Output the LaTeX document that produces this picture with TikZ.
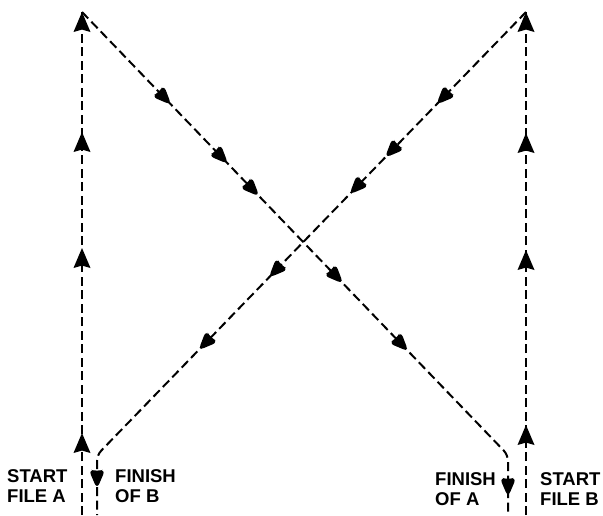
\documentclass[tikz,border=0pt]{standalone}
\usepackage{fontspec}
\setsansfont{Liberation Sans}
\usetikzlibrary{decorations.markings}

\begin{document}
\begin{tikzpicture}[x=1pt,y=-1pt]

\def\dashon{9pt}
\def\dashoff{4.5pt}
\def\headlen{20pt}
\def\headwid{8.5pt}

\tikzset{line/.style={draw,line width=2pt}}
\tikzset{flow/.style={line,dash pattern=on \dashon off \dashoff}}
\tikzset{arrowat/.style={postaction={decorate,decoration={markings,mark=at position #1 with {\fill[solid] (-\headlen,-\headwid) -- (0pt,0pt) -- (-\headlen,\headwid) -- (-0.88*\headlen,0pt) -- cycle;}}}}}
\tikzset{textnode/.style={inner sep=0pt,anchor=north west,align=left,font=\sffamily\bfseries\fontsize{18.5}{20}\selectfont}}

\useasboundingbox (0,0) rectangle (603,515);

\coordinate (startA) at (82,515);
\coordinate (topA) at (82,12);
\coordinate (bendA) at (508,455);
\coordinate (finishA) at (508,515);

\coordinate (startB) at (526,515);
\coordinate (topB) at (526,12);
\coordinate (bendB) at (97,455);
\coordinate (finishB) at (97,515);

% file A
\path[flow,arrowat=82pt,arrowat=267pt,arrowat=383pt,arrowat=1] (startA) to (topA);
\path[flow,rounded corners=6pt,arrowat=129pt,arrowat=211pt,arrowat=256pt,arrowat=377pt,arrowat=471pt,arrowat=656pt] (topA) -- (bendA) -- (finishA);

% file B
\path[flow,arrowat=90pt,arrowat=265pt,arrowat=382pt,arrowat=1] (startB) to (topB);
\path[flow,rounded corners=6pt,arrowat=129pt,arrowat=203pt,arrowat=254pt,arrowat=370pt,arrowat=471pt,arrowat=650pt] (topB) -- (bendB) -- (finishB);

\node[textnode] (startAtext) at (7,469) {START\\FILE A};
\node[textnode] (finishBtext) at (115,469) {FINISH\\OF B};
\node[textnode] (finishAtext) at (435,472) {FINISH\\OF A};
\node[textnode] (startBtext) at (540,472) {START\\FILE B};

\end{tikzpicture}
\end{document}
